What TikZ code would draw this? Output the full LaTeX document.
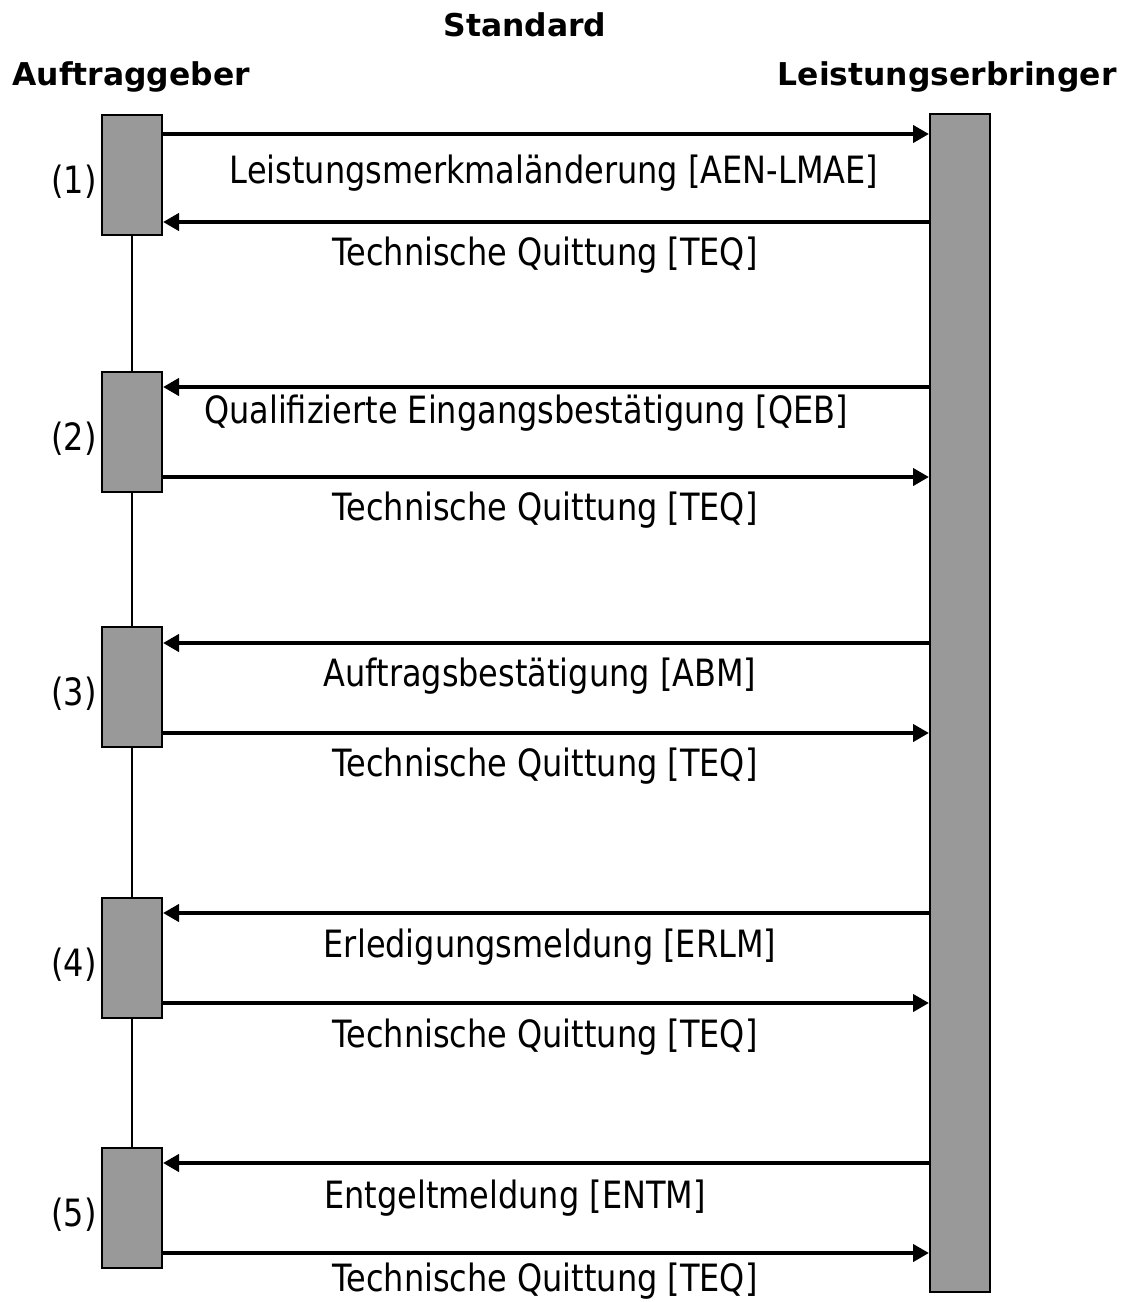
\documentclass[tikz,border=0pt]{standalone}
\usepackage{fontspec}
\setmainfont{DejaVu Sans}
\newfontfamily\msgfont[FakeStretch=0.85]{DejaVu Sans}
\usepackage{tikz}
\usetikzlibrary{positioning, arrows.meta, calc}
\definecolor{actgray}{HTML}{999999}

\begin{document}
\begin{tikzpicture}[
        x=0.5pt, y=-0.5pt,
        act/.style={rectangle, draw=black, fill=actgray, line width=1pt, minimum width=30pt, minimum height=60pt, inner sep=0pt},
        bar/.style={rectangle, draw=black, fill=actgray, line width=1pt, minimum width=30pt, minimum height=589pt, inner sep=0pt},
        head/.style={font=\bfseries\fontsize{15.7}{18}\selectfont, inner sep=0pt, anchor=base},
        lbl/.style={font=\msgfont\fontsize{18.8}{22}\selectfont, inner sep=0pt, anchor=base},
        num/.style={font=\msgfont\fontsize{18.8}{22}\selectfont, inner sep=0pt, left=2pt, yshift=-3.5pt},
        msg/.style={-{Triangle[length=8pt, width=8.5pt]}, line width=2pt, draw=black},
        lifeline/.style={line width=0.75pt, draw=black}
    ]
    \useasboundingbox (0,0) rectangle (1127,1302);

    % Headers
    \node[head] (std) at (525,36) {Standard};
    \node[head, anchor=base west] (ag) at (12,85) {Auftraggeber};
    \node[head, anchor=base east] (le) at (1117,85) {Leistungserbringer};

    % Activation boxes
    \node[act] (act1) at (132,175) {};
    \node[act] (act2) at (132,432) {};
    \node[act] (act3) at (132,687) {};
    \node[act] (act4) at (132,958) {};
    \node[act] (act5) at (132,1208) {};
    \node[bar] (lb) at (960,703) {};

    % Step numbers
    \node[num] at (act1.west) {(1)};
    \node[num] at (act2.west) {(2)};
    \node[num] at (act3.west) {(3)};
    \node[num] at (act4.west) {(4)};
    \node[num] at (act5.west) {(5)};

    % Lifeline
    \draw[lifeline] (act1.south) -- (act2.north);
    \draw[lifeline] (act2.south) -- (act3.north);
    \draw[lifeline] (act3.south) -- (act4.north);
    \draw[lifeline] (act4.south) -- (act5.north);

    % Message heights
    \coordinate (m1a) at (0,134);
    \coordinate (m1b) at (0,222);
    \coordinate (m2a) at (0,387);
    \coordinate (m2b) at (0,477);
    \coordinate (m3a) at (0,643);
    \coordinate (m3b) at (0,733);
    \coordinate (m4a) at (0,913);
    \coordinate (m4b) at (0,1003);
    \coordinate (m5a) at (0,1163);
    \coordinate (m5b) at (0,1253);

    % Messages
    \draw[msg] (act1.east |- m1a) -- (lb.west |- m1a);
    \draw[msg] (lb.west |- m1b) -- (act1.east |- m1b);
    \draw[msg] (lb.west |- m2a) -- (act2.east |- m2a);
    \draw[msg] (act2.east |- m2b) -- (lb.west |- m2b);
    \draw[msg] (lb.west |- m3a) -- (act3.east |- m3a);
    \draw[msg] (act3.east |- m3b) -- (lb.west |- m3b);
    \draw[msg] (lb.west |- m4a) -- (act4.east |- m4a);
    \draw[msg] (act4.east |- m4b) -- (lb.west |- m4b);
    \draw[msg] (lb.west |- m5a) -- (act5.east |- m5a);
    \draw[msg] (act5.east |- m5b) -- (lb.west |- m5b);

    % Message labels
    \node[lbl] at (554,183) {Leistungsmerkmaländerung [AEN-LMAE]};
    \node[lbl] at (545,265) {Technische Quittung [TEQ]};
    \node[lbl] at (526,423) {Qualifizierte Eingangsbestätigung [QEB]};
    \node[lbl] at (545,520) {Technische Quittung [TEQ]};
    \node[lbl] at (540,686) {Auftragsbestätigung [ABM]};
    \node[lbl] at (545,776) {Technische Quittung [TEQ]};
    \node[lbl] at (550,957) {Erledigungsmeldung [ERLM]};
    \node[lbl] at (545,1047) {Technische Quittung [TEQ]};
    \node[lbl] at (515,1208) {Entgeltmeldung [ENTM]};
    \node[lbl] at (545,1291) {Technische Quittung [TEQ]};

\end{tikzpicture}
\end{document}
